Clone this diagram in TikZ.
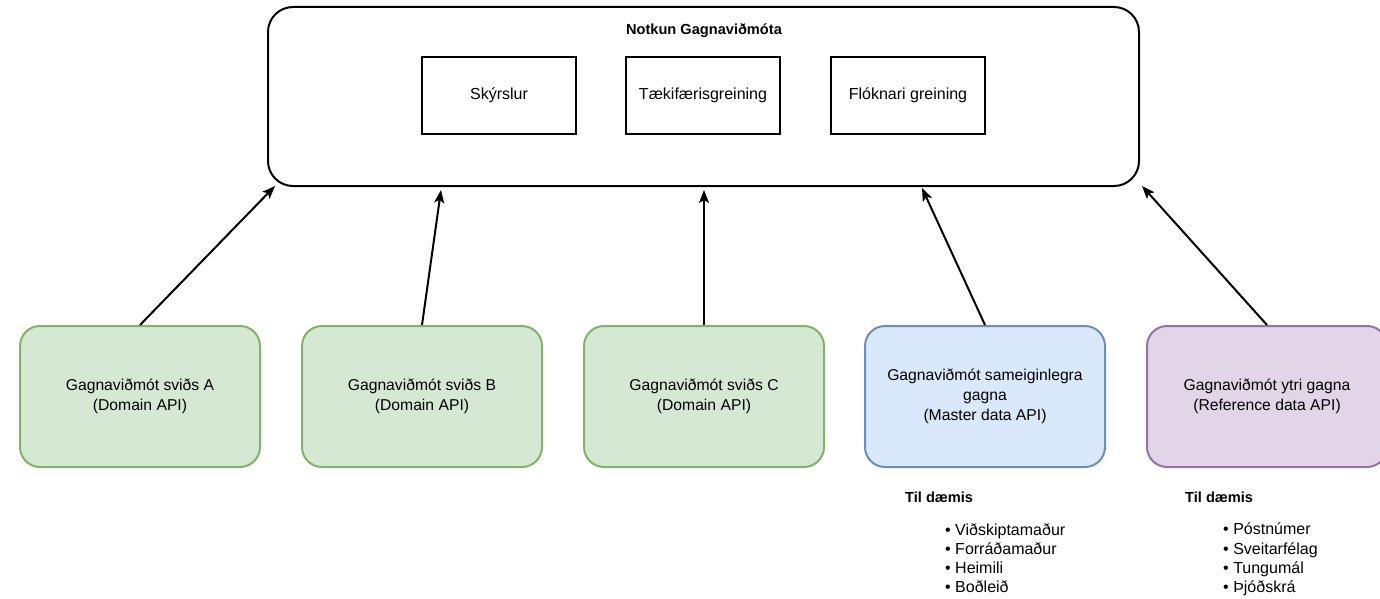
\documentclass[tikz,border=0pt]{standalone}
\usepackage{fontspec}
\setmainfont{Liberation Sans}
\usetikzlibrary{arrows.meta}
\definecolor{gfill}{HTML}{D5E8D4}\definecolor{gdraw}{HTML}{82B366}
\definecolor{bfill}{HTML}{DAE8FC}\definecolor{bdraw}{HTML}{6C8EBF}
\definecolor{pfill}{HTML}{E1D5E7}\definecolor{pdraw}{HTML}{9673A6}
\begin{document}
\begin{tikzpicture}[x=1pt,y=-1pt,
  lbl/.style={font=\fontsize{15.7}{19.7}\selectfont},
  api/.style={lbl, draw, line width=2pt, rounded corners=20pt, minimum width=240pt, minimum height=141pt, align=center, inner sep=0pt},
  green/.style={api, fill=gfill, draw=gdraw},
  blue/.style={api, fill=bfill, draw=bdraw},
  purple/.style={api, fill=pfill, draw=pdraw},
  usebox/.style={font=\fontsize{16}{19}\selectfont, draw, line width=2pt, minimum width=154pt, minimum height=77pt, inner sep=0pt},
  arr/.style={line width=2pt, -{Stealth[length=13pt,width=10pt,inset=3pt]}},
  head/.style={font=\fontsize{14.6}{17}\selectfont\bfseries, inner sep=0pt},
  list/.style={font=\fontsize{16}{19.3}\selectfont, align=left, anchor=north west, inner sep=0pt}
]
\useasboundingbox (0,0) rectangle (1380,599);
\fill[white] (0,0) rectangle (1380,599);

\node[draw, line width=2pt, rounded corners=25pt, minimum width=871pt, minimum height=179pt] (top) at (703.5,96.5) {};
\node[head] (title) at (704,31) {Notkun Gagnaviðmóta};
\node[usebox] (s1) at (499,95.5) {Skýrslur};
\node[usebox] (s2) at (703,95.5) {Tækifærisgreining};
\node[usebox] (s3) at (908,95.5) {Flóknari greining};

\node[green] (A) at (140,396.5) {Gagnaviðmót sviðs A\\(Domain API)};
\node[green] (B) at (422,396.5) {Gagnaviðmót sviðs B\\(Domain API)};
\node[green] (C) at (704,396.5) {Gagnaviðmót sviðs C\\(Domain API)};
\node[blue] (M) at (985,396.5) {Gagnaviðmót sameiginlegra\\gagna\\(Master data API)};
\node[purple] (R) at (1267,396.5) {Gagnaviðmót ytri gagna\\(Reference data API)};

\draw[arr] (A.north) -- ([xshift=8pt,yshift=1pt]top.south west);
\draw[arr] (B.north) -- ([xshift=174pt,yshift=-3pt]top.south west);
\draw[arr] (C.north) -- ([xshift=704pt-703.5pt,yshift=-3pt]top.south);
\draw[arr] (M.north) -- ([xshift=922pt-703.5pt,yshift=-1pt]top.south);
\draw[arr] (R.north) -- ([xshift=2pt,yshift=1pt]top.south east);

\node[head, anchor=west] (t1) at (905,497) {Til dæmis};
\node[list] (l1) at (945,523) {• Viðskiptamaður\\• Forráðamaður\\• Heimili\\• Boðleið};
\node[head, anchor=west] (t2) at (1185,497) {Til dæmis};
\node[list] (l2) at (1223,523) {• Póstnúmer\\• Sveitarfélag\\• Tungumál\\• Þjóðskrá};
\end{tikzpicture}
\end{document}
